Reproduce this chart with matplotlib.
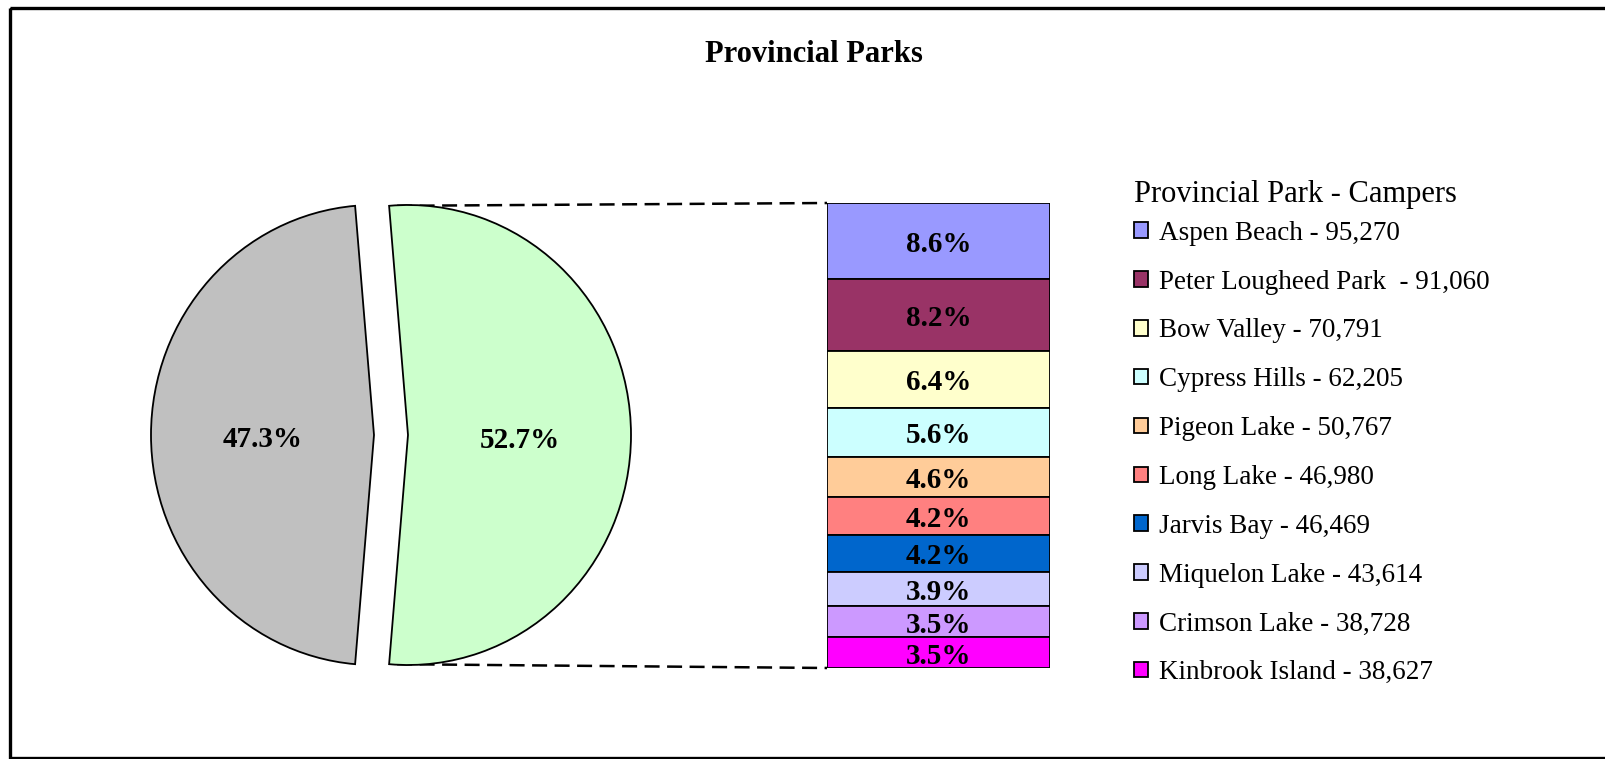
import numpy as np
import matplotlib.pyplot as plt
from matplotlib.patches import Rectangle

plt.rcParams['font.family'] = ['Liberation Serif', 'DejaVu Serif']

# data
parks = ['Aspen Beach', 'Peter Lougheed Park ', 'Bow Valley', 'Cypress Hills',
         'Pigeon Lake', 'Long Lake', 'Jarvis Bay', 'Miquelon Lake',
         'Crimson Lake', 'Kinbrook Island']
campers = [95270, 91060, 70791, 62205, 50767, 46980, 46469, 43614, 38728, 38627]
other_campers = 524600
park_colors = ['#9999FF', '#993366', '#FFFFCC', '#CCFFFF', '#FFCC99',
               '#FF8080', '#0066CC', '#CCCCFF', '#CC99FF', '#FF00FF']
pie_colors = ['#C0C0C0', '#CCFFCC']

W, H = 1606, 759
top_sum = sum(campers)
grand_total = top_sum + other_campers


def px_axes(fig, left, top, right, bottom):
    # axes placed by pixel box (y from top)
    return fig.add_axes([left / W, 1 - bottom / H, (right - left) / W,
                         (bottom - top) / H])


fig = plt.figure(figsize=(W / 100, H / 100), dpi=100)
ax = fig.add_axes([0, 0, 1, 1])
ax.set_xlim(0, W)
ax.set_ylim(H, 0)
ax.axis('off')

# pie of other vs top ten, slightly taller than wide like the original
s = 223 / 230
pax = fig.add_axes([0, 0, 1, 1])
frac_other = other_campers / grand_total
start = 180 * (1 - frac_other)
wedges, _, autotexts = pax.pie(
    [other_campers, top_sum], colors=pie_colors, startangle=start,
    center=(391, 435 * s), radius=223, explode=[17, 17],
    autopct='%1.1f%%', pctdistance=0.5,
    wedgeprops=dict(edgecolor='black', linewidth=1.3),
    textprops=dict(fontsize=21, fontweight='bold'))
for t in autotexts:
    x, y = t.get_position()
    t.set_position((x, y + 5 * s))
pax.set_xlim(0, W)
pax.set_ylim(H * s, 0)
pax.set_aspect('auto')
pax.axis('off')

# outer frame
ax.add_patch(Rectangle((10.5, 8), W + 20, 750, fill=False,
                       edgecolor='black', linewidth=2.4))

ax.text(814, 54, 'Provincial Parks', ha='center', va='center',
        fontsize=22, fontweight='bold')

# stacked bar of the top ten
bar_left, bar_top, bar_right, bar_bottom = 827, 203, 1050, 668
bx = px_axes(fig, bar_left, bar_top, bar_right, bar_bottom)
bottoms = np.concatenate([[0], np.cumsum(campers)[:-1]])
bars = bx.bar([0] * len(campers), campers, bottom=bottoms, width=1,
              color=park_colors, edgecolor='black', linewidth=1.3)
pct_texts = bx.bar_label(bars, labels=['{:.1f}%'.format(100 * c / grand_total)
                                       for c in campers],
                         label_type='center', fontsize=21, fontweight='bold')
for t in pct_texts:
    t.xyann = (0, -2.5)
bx.set_xlim(-0.5, 0.5)
bx.set_ylim(top_sum, 0)
bx.axis('off')

# dashed connectors from the green slice to the bar
w = wedges[1]
cx, cy = w.center
for ang in (w.theta1, w.theta2):
    a = np.deg2rad(ang)
    x0 = cx + w.r * np.cos(a)
    y0 = (cy + w.r * np.sin(a)) / s
    yb = bar_bottom if y0 > cy / s else bar_top
    ax.plot([x0 + 8, bar_left], [y0, yb], color='black', linewidth=1.8,
            linestyle=(0, (6, 3)), zorder=0)

labels = ['{} - {:,}'.format(p, c) for p, c in zip(parks, campers)]
leg = ax.legend(bars.patches, labels, title='Provincial Park - Campers',
                loc='upper left', bbox_to_anchor=(1134, 180),
                bbox_transform=ax.transData, frameon=False,
                fontsize=19.5, title_fontsize=22, alignment='left',
                handlelength=0.52, handleheight=0.5, handletextpad=0.4,
                labelspacing=0.88, borderaxespad=0, borderpad=0)
leg._legend_box.sep = 8.5
leg.set_zorder(5)

fig.savefig('out.png', dpi=100)
